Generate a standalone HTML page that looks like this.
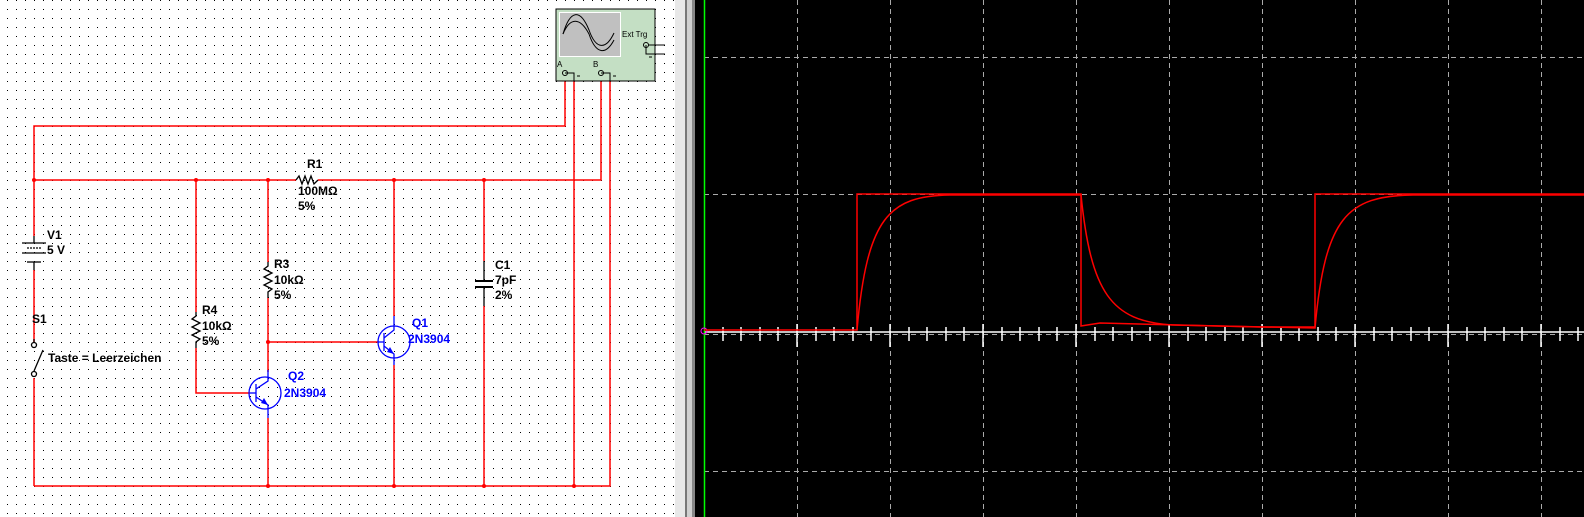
<!DOCTYPE html>
<html><head><meta charset="utf-8"><style>
html,body{margin:0;padding:0;width:1584px;height:517px;overflow:hidden;background:#fff}
svg{display:block}
text{font-family:"Liberation Sans",sans-serif;font-weight:bold;font-size:12px}
</style></head><body>
<svg width="1584" height="517" viewBox="0 0 1584 517" xmlns="http://www.w3.org/2000/svg">
<defs>
<pattern id="dots" x="7" y="0" width="9" height="9" patternUnits="userSpaceOnUse"><rect x="0" y="0" width="1" height="1" fill="#000"/></pattern>
</defs>
<rect x="0" y="0" width="685" height="517" fill="#fff"/>
<rect x="0" y="0" width="685" height="517" fill="url(#dots)"/>
<rect x="675" y="0" width="10" height="517" fill="#e8e8e8"/>
<rect x="685" y="0" width="10" height="517" fill="#d0d0d0"/>
<rect x="685" y="0" width="2" height="517" fill="#777"/>
<rect x="692" y="0" width="3" height="517" fill="#888"/>
<rect x="695" y="0" width="889" height="517" fill="#000"/>
<g stroke="#aaa" stroke-width="1" stroke-dasharray="5,4" fill="none">
<line x1="704" y1="57.5" x2="1584" y2="57.5"/>
<line x1="704" y1="194.5" x2="1584" y2="194.5"/>
<line x1="704" y1="471.5" x2="1584" y2="471.5"/>
<line x1="704" y1="334.5" x2="1584" y2="334.5"/>
<line x1="797.5" y1="0" x2="797.5" y2="517"/>
<line x1="890.5" y1="0" x2="890.5" y2="517"/>
<line x1="983.5" y1="0" x2="983.5" y2="517"/>
<line x1="1076.5" y1="0" x2="1076.5" y2="517"/>
<line x1="1169.5" y1="0" x2="1169.5" y2="517"/>
<line x1="1262.5" y1="0" x2="1262.5" y2="517"/>
<line x1="1355.5" y1="0" x2="1355.5" y2="517"/>
<line x1="1448.5" y1="0" x2="1448.5" y2="517"/>
<line x1="1541.5" y1="0" x2="1541.5" y2="517"/>
</g>
<g stroke="#fff" stroke-width="1.5" transform="translate(0,3)">
<line x1="704" y1="329" x2="1584" y2="329"/>
<line x1="723" y1="324" x2="723" y2="338"/><line x1="741" y1="324" x2="741" y2="338"/><line x1="760" y1="324" x2="760" y2="338"/><line x1="778" y1="324" x2="778" y2="338"/><line x1="797" y1="321" x2="797" y2="344"/>
<line x1="816" y1="324" x2="816" y2="338"/><line x1="834" y1="324" x2="834" y2="338"/><line x1="853" y1="324" x2="853" y2="338"/><line x1="871" y1="324" x2="871" y2="338"/><line x1="890" y1="321" x2="890" y2="344"/>
<line x1="909" y1="324" x2="909" y2="338"/><line x1="927" y1="324" x2="927" y2="338"/><line x1="946" y1="324" x2="946" y2="338"/><line x1="964" y1="324" x2="964" y2="338"/><line x1="983" y1="321" x2="983" y2="344"/>
<line x1="1002" y1="324" x2="1002" y2="338"/><line x1="1020" y1="324" x2="1020" y2="338"/><line x1="1039" y1="324" x2="1039" y2="338"/><line x1="1057" y1="324" x2="1057" y2="338"/><line x1="1076" y1="321" x2="1076" y2="344"/>
<line x1="1095" y1="324" x2="1095" y2="338"/><line x1="1113" y1="324" x2="1113" y2="338"/><line x1="1132" y1="324" x2="1132" y2="338"/><line x1="1150" y1="324" x2="1150" y2="338"/><line x1="1169" y1="321" x2="1169" y2="344"/>
<line x1="1188" y1="324" x2="1188" y2="338"/><line x1="1206" y1="324" x2="1206" y2="338"/><line x1="1225" y1="324" x2="1225" y2="338"/><line x1="1243" y1="324" x2="1243" y2="338"/><line x1="1262" y1="321" x2="1262" y2="344"/>
<line x1="1281" y1="324" x2="1281" y2="338"/><line x1="1299" y1="324" x2="1299" y2="338"/><line x1="1318" y1="324" x2="1318" y2="338"/><line x1="1336" y1="324" x2="1336" y2="338"/><line x1="1355" y1="321" x2="1355" y2="344"/>
<line x1="1374" y1="324" x2="1374" y2="338"/><line x1="1392" y1="324" x2="1392" y2="338"/><line x1="1411" y1="324" x2="1411" y2="338"/><line x1="1429" y1="324" x2="1429" y2="338"/><line x1="1448" y1="321" x2="1448" y2="344"/>
<line x1="1467" y1="324" x2="1467" y2="338"/><line x1="1485" y1="324" x2="1485" y2="338"/><line x1="1504" y1="324" x2="1504" y2="338"/><line x1="1522" y1="324" x2="1522" y2="338"/><line x1="1541" y1="321" x2="1541" y2="344"/>
<line x1="1560" y1="324" x2="1560" y2="338"/><line x1="1578" y1="324" x2="1578" y2="338"/>
</g>
<line x1="704.5" y1="0" x2="704.5" y2="517" stroke="#0f0" stroke-width="1.5"/>
<circle cx="704" cy="331" r="3" fill="none" stroke="#f0f" stroke-width="1"/>
<g fill="none" stroke="#f00" stroke-width="1.5">
<path d="M704 330 L857 330 L857 194 L1081 194 L1081 326 L1100 323 L1260 327 L1315 327 L1315 194 L1584 194"/>
<path d="M857 330 C867 217 889 196 950 195 L1081 195 C1091 293 1111 321 1172 325 L1315 328 C1325 217 1347 196 1413 195 L1584 195"/>
</g>
<g fill="none" stroke="#f00" stroke-width="1.5">
<polyline points="34,236 34,126 565,126 565,78"/>
<line x1="34" y1="270" x2="34" y2="342"/>
<line x1="34" y1="378" x2="34" y2="486"/>
<polyline points="34,486 610,486 610,78"/>
<polyline points="34,180 296,180"/>
<polyline points="318,180 601,180 601,78"/>
<line x1="574" y1="78" x2="574" y2="486"/>
<line x1="196" y1="180" x2="196" y2="312"/>
<polyline points="196,348 196,393 250,393"/>
<line x1="268" y1="180" x2="268" y2="262"/>
<line x1="268" y1="298" x2="268" y2="372"/>
<line x1="268" y1="342" x2="378" y2="342"/>
<line x1="268" y1="418" x2="268" y2="486"/>
<line x1="394" y1="180" x2="394" y2="316"/>
<line x1="394" y1="365" x2="394" y2="486"/>
<line x1="484" y1="180" x2="484" y2="261"/>
<line x1="484" y1="306" x2="484" y2="486"/>
</g>
<g fill="#f00">
<circle cx="34" cy="180" r="2"/><circle cx="196" cy="180" r="2"/><circle cx="268" cy="180" r="2"/><circle cx="394" cy="180" r="2"/><circle cx="484" cy="180" r="2"/>
<circle cx="268" cy="342" r="2"/>
<circle cx="268" cy="486" r="2"/><circle cx="394" cy="486" r="2"/><circle cx="484" cy="486" r="2"/><circle cx="574" cy="486" r="2"/>
</g>
<g fill="none" stroke="#000" stroke-width="1.3">
<polyline points="296,180 299,176 302,184 305,176 308,184 311,176 314,184 318,180"/>
<polyline points="196,312 196,316 192,319 200,323 192,327 200,331 192,335 200,339 196,342 196,348"/>
<polyline points="268,262 268,266 264,269 272,273 264,277 272,281 264,285 272,289 268,292 268,298"/>
<line x1="484" y1="261" x2="484" y2="281"/><line x1="484" y1="287" x2="484" y2="306"/>
<line x1="475" y1="281" x2="493" y2="281" stroke-width="2"/><line x1="475" y1="287" x2="493" y2="287" stroke-width="2"/>
<line x1="34" y1="236" x2="34" y2="243"/>
<line x1="22" y1="243" x2="46" y2="243"/>
<line x1="27" y1="248" x2="41" y2="248" stroke-dasharray="2,1"/>
<line x1="22" y1="253" x2="46" y2="253"/>
<line x1="27" y1="262" x2="41" y2="262"/>
<line x1="34" y1="262" x2="34" y2="270"/>
<line x1="34" y1="339" x2="34" y2="342"/>
<circle cx="34" cy="345" r="2.5"/>
<circle cx="34" cy="374" r="2.5"/>
<line x1="34" y1="371" x2="43" y2="350"/>
</g>
<g fill="none" stroke="#00f" stroke-width="1.3">
<circle cx="265" cy="393" r="16"/>
<line x1="250" y1="393" x2="256" y2="393"/><line x1="256" y1="384" x2="256" y2="402"/>
<polyline points="256,389 268,381 268,370"/><polyline points="256,397 268,405 268,418"/>
<circle cx="394" cy="342" r="16"/>
<line x1="378" y1="342" x2="384" y2="342"/><line x1="384" y1="333" x2="384" y2="351"/>
<polyline points="384,338 394,330 394,316"/><polyline points="384,346 394,354 394,365"/>
</g>
<polygon points="268,405 261,403 264,398" fill="#00f"/>
<polygon points="394,354 387,352 390,347" fill="#00f"/>
<rect x="556" y="9" width="99" height="72" fill="#c4dfc4" stroke="#000" stroke-width="1"/>
<rect x="559.5" y="12.5" width="61" height="44" fill="#c0c0c0" stroke="#fff" stroke-width="1"/>
<g fill="none" stroke="#000" stroke-width="1">
<path d="M563 34 C570 10 580 8 589 30 C596 50 606 50 614 33"/>
<path d="M563 34 C570 17 580 17 589 34 C596 55 606 55 614 40"/>
</g>
<text x="622" y="37" style="font-weight:normal;font-size:8px">Ext Trg</text>
<text x="557" y="67" style="font-weight:normal;font-size:8px">A</text>
<text x="593" y="67" style="font-weight:normal;font-size:8px">B</text>
<g fill="none" stroke="#000" stroke-width="1">
<circle cx="565" cy="73" r="2.5"/><polyline points="565,73 574,73 574,81"/><line x1="577" y1="76" x2="580" y2="76"/>
<circle cx="601" cy="73" r="2.5"/><polyline points="601,73 610,73 610,81"/><line x1="613" y1="76" x2="616" y2="76"/>
<circle cx="646" cy="45" r="2.5"/><line x1="648" y1="45" x2="665" y2="45"/><polyline points="646,45 646,54 665,54"/><line x1="649" y1="57" x2="652" y2="57"/>
</g>
<g fill="#000">
<text x="47" y="239">V1</text><text x="47" y="254">5 V</text>
<text x="32" y="323">S1</text>
<text x="48" y="362">Taste = Leerzeichen</text>
<text x="307" y="168">R1</text><text x="298" y="195">100MΩ</text><text x="298" y="210">5%</text>
<text x="274" y="268">R3</text><text x="274" y="284">10kΩ</text><text x="274" y="299">5%</text>
<text x="202" y="314">R4</text><text x="202" y="330">10kΩ</text><text x="202" y="345">5%</text>
<text x="495" y="269">C1</text><text x="495" y="284">7pF</text><text x="495" y="299">2%</text>
</g>
<g fill="#00f">
<text x="412" y="327">Q1</text><text x="408" y="343">2N3904</text>
<text x="288" y="380">Q2</text><text x="284" y="397">2N3904</text>
</g>
</svg>
</body></html>
